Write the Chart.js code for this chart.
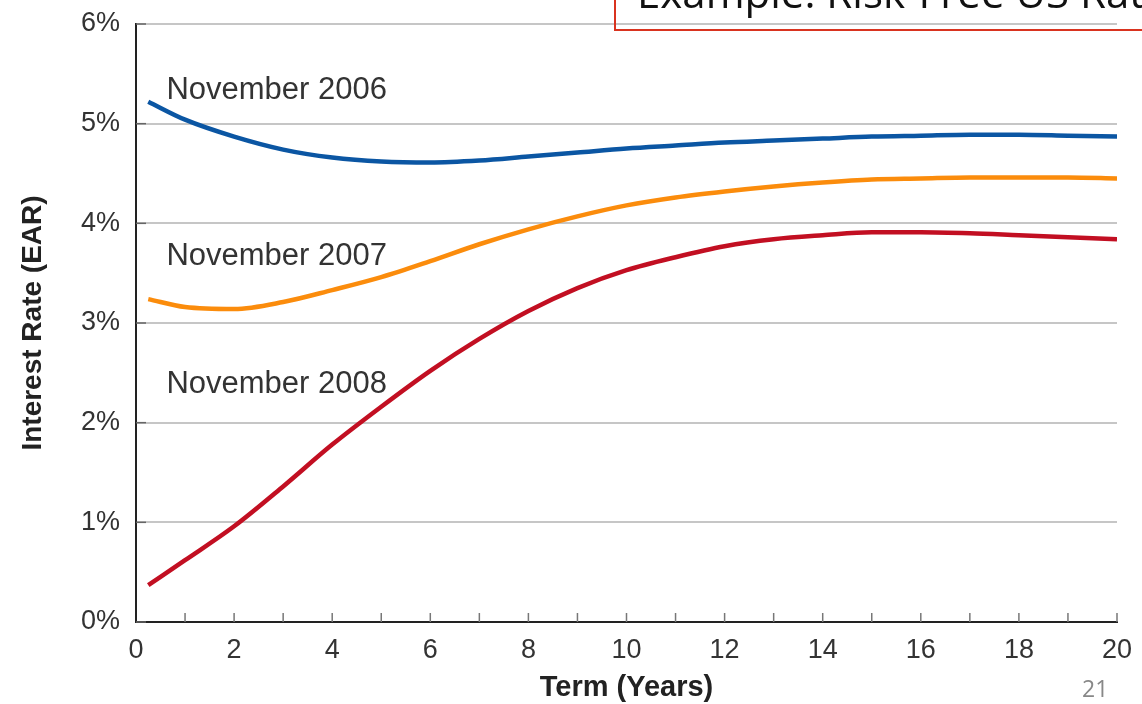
<!DOCTYPE html>
<html>
<head>
<meta charset="utf-8">
<script src="https://cdn.jsdelivr.net/npm/chart.js@4.4.1/dist/chart.umd.min.js"></script>
<style>
  body { margin: 0; background: #fff; overflow: hidden; }
  #wrap { position: relative; width: 1142px; height: 704px; }
  #box { position: absolute; left: 614px; top: -40px; width: 560px; height: 71px; border: 2px solid #d9331f; box-sizing: border-box; overflow: hidden; }
  #box span { position: absolute; left: 21px; top: 4px; font-family: "Open Sans", sans-serif; font-size: 42px; line-height: 52px; color: #111; white-space: nowrap; }
  #page { position: absolute; left: 1082px; top: 672px; font-family: "Open Sans", sans-serif; font-size: 23px; color: #888; }
</style>
</head>
<body>
<div id="wrap">
  <canvas id="yieldChart" width="1142" height="704"></canvas>
  <div id="box"><span>Example: Risk-Free US Rates</span></div>
  <div id="page">21</div>
</div>
<script>
// term in years
const terms = [0.25, 1, 2, 3, 4, 5, 6, 7, 8, 9, 10, 11, 12, 13, 14, 15, 16, 17, 18, 19, 20];
// interest rates (EAR, %)
const nov2006 = [5.22, 5.04, 4.87, 4.74, 4.66, 4.62, 4.61, 4.63, 4.67, 4.71, 4.75, 4.78, 4.81, 4.83, 4.85, 4.87, 4.88, 4.89, 4.89, 4.88, 4.87];
const nov2007 = [3.24, 3.16, 3.14, 3.21, 3.33, 3.46, 3.62, 3.79, 3.94, 4.07, 4.18, 4.26, 4.32, 4.37, 4.41, 4.44, 4.45, 4.46, 4.46, 4.46, 4.45];
const nov2008 = [0.37, 0.62, 0.96, 1.36, 1.78, 2.16, 2.52, 2.84, 3.12, 3.35, 3.53, 3.66, 3.77, 3.84, 3.88, 3.91, 3.91, 3.90, 3.88, 3.86, 3.84];
const seriesNames = ["November 2006", "November 2007", "November 2008"];
const yTicks = [0, 1, 2, 3, 4, 5, 6];

function pts(vals) {
  return terms.map((t, i) => ({ x: t, y: vals[i] }));
}

// label spots, in data units
const labelSpots = [
  { x: 0.62, y: 5.33 },
  { x: 0.62, y: 3.67 },
  { x: 0.62, y: 2.38 }
];

const fontFam = '"Liberation Sans", Arial, sans-serif';

const extras = {
  id: 'extras',
  afterDatasetsDraw(chart) {
    const c = chart.ctx;
    const xs = chart.scales.x, ys = chart.scales.y;
    c.save();
    // small inward ticks on x axis
    c.strokeStyle = '#777';
    c.lineWidth = 1.5;
    for (let t = 1; t <= 20; t++) {
      const px = xs.getPixelForValue(t);
      c.beginPath();
      c.moveTo(px, ys.bottom);
      c.lineTo(px, ys.bottom - 9);
      c.stroke();
    }
    // short dark ticks on y axis
    c.strokeStyle = '#666';
    yTicks.forEach(v => {
      const py = ys.getPixelForValue(v);
      c.beginPath();
      c.moveTo(xs.left, py);
      c.lineTo(xs.left + 10, py);
      c.stroke();
    });
    // series labels
    c.fillStyle = '#333';
    c.font = '31px ' + fontFam;
    c.textBaseline = 'middle';
    seriesNames.forEach((n, i) => {
      c.fillText(n, xs.getPixelForValue(labelSpots[i].x), ys.getPixelForValue(labelSpots[i].y));
    });
    c.restore();
  }
};

const ctx = document.getElementById('yieldChart').getContext('2d');
new Chart(ctx, {
  type: 'line',
  data: {
    datasets: [
      { label: seriesNames[0], data: pts(nov2006), borderColor: '#0b56a3', borderWidth: 4.5, pointRadius: 0, cubicInterpolationMode: 'monotone' },
      { label: seriesNames[1], data: pts(nov2007), borderColor: '#fb8c0c', borderWidth: 4.5, pointRadius: 0, cubicInterpolationMode: 'monotone' },
      { label: seriesNames[2], data: pts(nov2008), borderColor: '#c20f22', borderWidth: 4.5, pointRadius: 0, cubicInterpolationMode: 'monotone' }
    ]
  },
  options: {
    responsive: false,
    animation: false,
    layout: { padding: { left: 0, right: 25, top: 24, bottom: 0 } },
    plugins: { legend: { display: false }, tooltip: { enabled: false } },
    scales: {
      x: {
        type: 'linear', min: 0, max: 20,
        afterFit(s) { s.height = 82; },
        border: { display: true, color: '#222', width: 2 },
        grid: { display: false },
        ticks: {
          stepSize: 1, autoSkip: false, maxRotation: 0, padding: 4,
          color: '#333', font: { family: fontFam, size: 27 },
          callback: v => (v % 2 === 0 ? String(v) : '')
        },
        title: {
          display: true, text: 'Term (Years)', color: '#222',
          font: { family: fontFam, size: 29, weight: 'bold', lineHeight: 1.0 },
          padding: { top: 0, bottom: 2 }
        }
      },
      y: {
        min: 0, max: 6,
        afterFit(s) { s.width = 136; s.paddingTop = 0; s.paddingBottom = 0; },
        border: { display: true, color: '#222', width: 2 },
        grid: { color: '#c6c6c6', lineWidth: 2, drawTicks: false },
        ticks: {
          stepSize: 1, padding: 16,
          color: '#333', font: { family: fontFam, size: 27, lineHeight: 0.6 },
          callback: v => v + '%'
        },
        title: {
          display: true, text: 'Interest Rate (EAR)', color: '#222',
          font: { family: fontFam, size: 28, weight: 'bold' },
          padding: { top: 16, bottom: 0 }
        }
      }
    }
  },
  plugins: [extras]
});
</script>
</body>
</html>
